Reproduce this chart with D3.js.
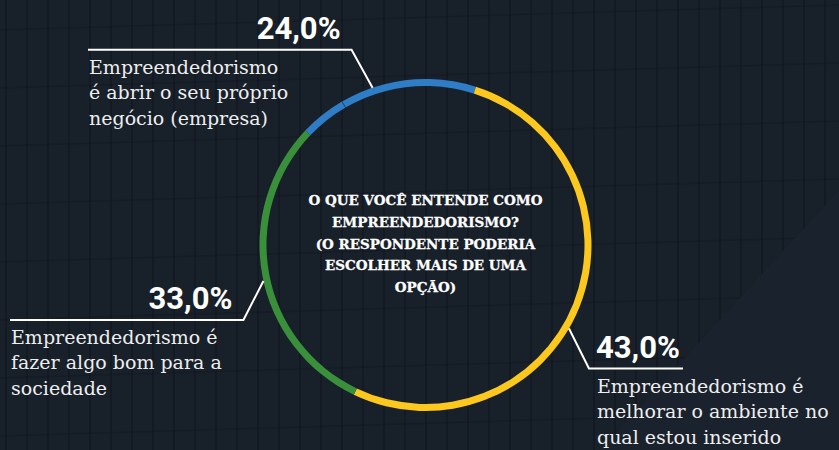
<!DOCTYPE html>
<html>
<head>
<meta charset="utf-8">
<script src="https://cdn.jsdelivr.net/npm/d3@7"></script>
<style>
  html, body { margin: 0; padding: 0; background: #19212c; }
  svg { display: block; }
</style>
</head>
<body>
<svg id="chart" width="839" height="450"></svg>
<script>
// dados
const categorias = [
  ["Empreendedorismo", "é abrir o seu próprio", "negócio (empresa)"],
  ["Empreendedorismo é", "melhorar o ambiente no", "qual estou inserido"],
  ["Empreendedorismo é", "fazer algo bom para a", "sociedade"]
];
const percentuais = [24.0, 43.0, 33.0];
// fatia do anel como aparece desenhada
const fatias = [17.8, 52.2, 30.0];
const cores = ["#2e7dc6", "#fcc81e", "#3a8f3b"];
const titulo = ["O QUE VOCÊ ENTENDE COMO", "EMPREENDEDORISMO?", "(O RESPONDENTE PODERIA", "ESCOLHER MAIS DE UMA", "OPÇÃO)"];

// posição das etiquetas (ângulo no anel, cotovelo, fim da linha)
const etiquetas = [
  { ang: -18.6, dx: -21, dy: -38, fim: 88,  lado: "esq" },
  { ang: 120.2, dx: 20,  dy: 40,  fim: 683, lado: "dir" },
  { ang: 257.5, dx: -20, dy: 39,  fim: 10,  lado: "esq" }
];

const W = 839, H = 450;
const cx = 425.5, cy = 245;
const rExt = 166, rInt = 159;
const rad = Math.PI / 180;

const svg = d3.select("#chart");

// fundo
svg.append("rect").attr("width", W).attr("height", H).attr("fill", "#1a222d");

const defs = svg.append("defs");
defs.append("clipPath").attr("id", "predio")
  .append("polygon")
  .attr("points", "0,0 839,0 839,190 600,450 0,450");

const predio = svg.append("g").attr("clip-path", "url(#predio)");
predio.append("rect").attr("width", W).attr("height", H).attr("fill", "#18202a");
predio.append("g")
  .selectAll("line")
  .data(d3.range(6, W, 21))
  .join("line")
  .attr("x1", d => d).attr("x2", d => d)
  .attr("y1", 0).attr("y2", H)
  .attr("stroke", "#0f141b")
  .attr("stroke-opacity", 0.5)
  .attr("stroke-width", 2);
predio.append("g")
  .selectAll("line")
  .data(d3.range(30, H, 58))
  .join("line")
  .attr("x1", 0).attr("x2", W)
  .attr("y1", d => d).attr("y2", d => d - 25)
  .attr("stroke", "#0f141b")
  .attr("stroke-opacity", 0.3)
  .attr("stroke-width", 1.5);

// anel
const inicio = -46.4 * rad;
const pie = d3.pie().sort(null).value(d => d)
  .startAngle(inicio).endAngle(inicio + 2 * Math.PI);
const arc = d3.arc().innerRadius(rInt).outerRadius(rExt);

const g = svg.append("g").attr("transform", `translate(${cx},${cy})`);
g.selectAll("path")
  .data(pie(fatias))
  .join("path")
  .attr("d", arc)
  .attr("fill", (d, i) => cores[i]);

// pequena emenda no azul
const a0 = -30.2 * rad;
g.append("line")
  .attr("x1", Math.sin(a0) * (rInt - 0.5)).attr("y1", -Math.cos(a0) * (rInt - 0.5))
  .attr("x2", Math.sin(a0) * (rExt + 0.5)).attr("y2", -Math.cos(a0) * (rExt + 0.5))
  .attr("stroke", "#1d3f63").attr("stroke-width", 1);

// título central
svg.append("text")
  .attr("x", cx)
  .attr("text-anchor", "middle")
  .attr("font-family", "DejaVu Serif")
  .attr("font-weight", "bold")
  .attr("font-size", 13.5)
  .attr("fill", "#ffffff")
  .attr("stroke", "#ffffff")
  .attr("stroke-width", 0.3)
  .selectAll("tspan")
  .data(titulo)
  .join("tspan")
  .attr("x", cx)
  .attr("y", (d, i) => 205 + i * 21.8)
  .text(d => d);

// etiquetas
const br = d3.formatLocale({ decimal: ",", thousands: ".", grouping: [3], currency: ["R$", ""] });
const fmt = br.format(".1f");

etiquetas.forEach((e, i) => {
  const a = e.ang * rad;
  const px = cx + Math.sin(a) * rExt;
  const py = cy - Math.cos(a) * rExt;
  const ex = px + e.dx, ey = py + e.dy;

  svg.append("polyline")
    .attr("points", [[px, py], [ex, ey], [e.fim, ey]].map(p => p.join(",")).join(" "))
    .attr("fill", "none")
    .attr("stroke", "#ffffff")
    .attr("stroke-width", 2);

  svg.append("text")
    .attr("x", e.lado === "esq" ? ex - 11 : ex + 7)
    .attr("y", ey - 11)
    .attr("text-anchor", e.lado === "esq" ? "end" : "start")
    .attr("font-family", "Roboto")
    .attr("font-weight", 700)
    .attr("font-size", 31)
    .attr("fill", "#ffffff")
    .text(fmt(percentuais[i]) + "%");

  const tx = e.lado === "esq" ? e.fim + 1 : ex + 8;
  svg.append("text")
    .attr("font-family", "DejaVu Serif")
    .attr("font-size", 19)
    .attr("fill", "#eeeeee")
    .selectAll("tspan")
    .data(categorias[i])
    .join("tspan")
    .attr("x", tx)
    .attr("y", (d, j) => ey + 24 + j * 25.5)
    .text(d => d);
});
</script>
</body>
</html>
